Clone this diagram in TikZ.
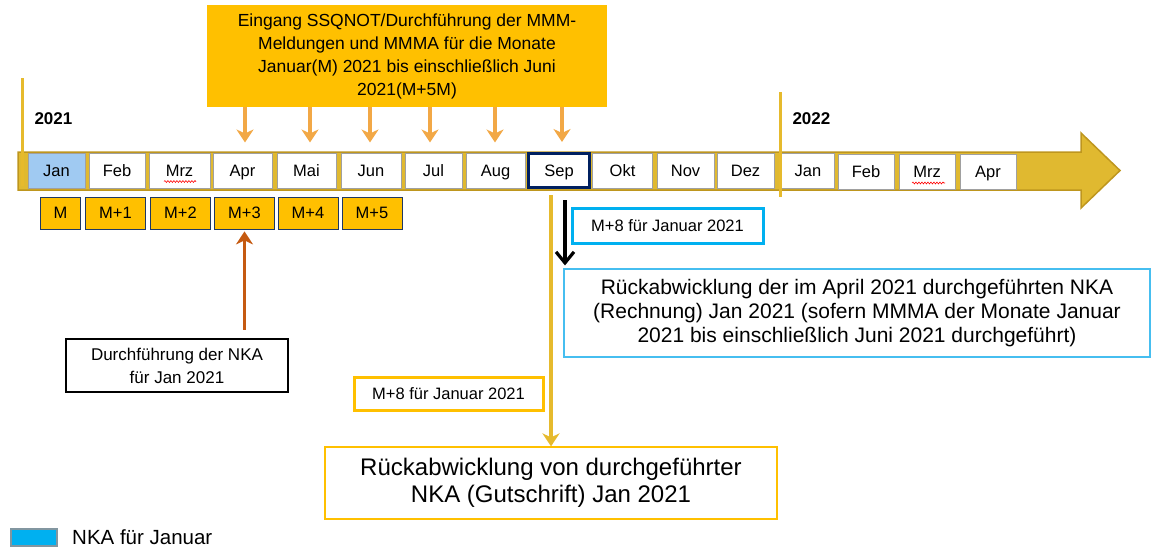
\documentclass[tikz,border=0pt]{standalone}
\usepackage{fontspec}
\setmainfont{Liberation Sans}
\usetikzlibrary{arrows.meta,decorations.pathmorphing}
\definecolor{amber}{RGB}{255,192,0}
\definecolor{bandgold}{RGB}{224,185,48}
\definecolor{banddark}{RGB}{190,150,30}
\definecolor{yline}{RGB}{230,186,45}
\definecolor{lorange}{RGB}{242,168,70}
\definecolor{brownarr}{RGB}{197,90,17}
\definecolor{mgray}{RGB}{160,160,160}
\definecolor{navy}{RGB}{0,32,96}
\definecolor{mnavy}{RGB}{31,56,100}
\definecolor{janblue}{RGB}{160,202,242}
\definecolor{cyanb}{RGB}{0,176,240}
\definecolor{cyanl}{RGB}{70,190,240}
\definecolor{leggray}{RGB}{130,150,160}
\begin{document}
\begin{tikzpicture}[x=1pt,y=-1pt,
  mbox/.style={draw=mgray, line width=1pt, fill=white, minimum height=35pt, inner sep=0pt, text height=11.8pt, text depth=0pt, font=\fontsize{16.5}{18}\selectfont},
  mmbox/.style={draw=mnavy, line width=0.8pt, fill=amber, minimum height=32pt, inner sep=0pt, text height=11.8pt, text depth=0pt, font=\fontsize{16.5}{18}\selectfont},
  oarrow/.style={draw=lorange, line width=3.5pt, -{Stealth[width=17pt,length=13pt,inset=4pt]}},
  txtbox/.style={inner sep=0pt, align=center},
  wavy/.style={draw=red, line width=0.6pt, decorate, decoration={snake, amplitude=0.9pt, segment length=3pt}}
]
\useasboundingbox (0,0) rectangle (1151,547);
% band
\fill[bandgold, draw=banddark, line width=1.5pt] (18,152) -- (1081,152) -- (1081,133) -- (1120,170.5) -- (1081,208) -- (1081,190) -- (18,190) -- cycle;
\draw[yline, line width=3pt] (22,78) -- (22,186);
% months 2021
\node[mbox, fill=janblue, minimum width=57pt] (jan) at (56.5,170.5) {Jan};
\node[mbox, minimum width=56pt] (feb) at (117,170.5) {Feb};
\node[mbox, minimum width=61pt] (mrz) at (179.5,170.5) {Mrz};
\node[mbox, minimum width=59pt] (apr) at (242.5,170.5) {Apr};
\node[mbox, minimum width=59pt] (mai) at (306.5,170.5) {Mai};
\node[mbox, minimum width=60pt] (jun) at (371,170.5) {Jun};
\node[mbox, minimum width=57pt] (jul) at (433.5,170.5) {Jul};
\node[mbox, minimum width=59pt] (aug) at (495.5,170.5) {Aug};
\node[mbox, draw=navy, line width=3pt, minimum width=61pt, minimum height=34pt] (sep) at (559,170.5) {Sep};
\node[mbox, minimum width=60pt] (okt) at (622.5,170.5) {Okt};
\node[mbox, minimum width=57pt] (nov) at (685.5,170.5) {Nov};
\node[mbox, minimum width=57pt] (dez) at (745.5,170.5) {Dez};
\node[mbox, minimum width=53pt] (jan2) at (808,171) {Jan};
\node[mbox, minimum width=56pt] (feb2) at (866,172) {Feb};
\node[mbox, minimum width=56pt] (mrz2) at (927,172) {Mrz};
\node[mbox, minimum width=56pt] (apr2) at (988,172) {Apr};
\draw[wavy] (164,181.5) -- (196,181.5);
\draw[wavy] (912,183) -- (945,183);
\draw[yline, line width=3pt] (780,92) -- (780,197);
% years
\node[anchor=west, font=\fontsize{17}{19}\selectfont\bfseries] (y21) at (31,119) {2021};
\node[anchor=west, font=\fontsize{17}{19}\selectfont\bfseries] (y22) at (789,119) {2022};
% M boxes
\node[mmbox, minimum width=40pt] (m0) at (60.5,213) {M};
\node[mmbox, minimum width=60pt] (m1) at (115.5,213) {M+1};
\node[mmbox, minimum width=60pt] (m2) at (180.5,213) {M+2};
\node[mmbox, minimum width=60pt] (m3) at (244.5,213) {M+3};
\node[mmbox, minimum width=60pt] (m4) at (308,213) {M+4};
\node[mmbox, minimum width=60pt] (m5) at (372,213) {M+5};
% top box
\node[txtbox, fill=amber, minimum width=400pt, minimum height=102pt, font=\fontsize{17.5}{23}\selectfont] (top) at (407,56)
 {Eingang SSQNOT/Durchführung der MMM-\\Meldungen und MMMA für die Monate\\Januar(M) 2021 bis einschließlich Juni\\2021(M+5M)};
\foreach \m/\dx in {apr/2.5,mai/3.5,jun/-1,jul/-3.5,aug/-0.5,sep/3}
  \draw[oarrow] ([xshift=\dx pt]top.south -| \m.north) -- ([xshift=\dx pt, yshift=10pt]\m.north);
% NKA box
\node[txtbox, draw=black, line width=2.2pt, minimum width=222pt, minimum height=53pt, font=\fontsize{17}{23}\selectfont] (nka) at (177,365.5)
 {Durchführung der NKA\\für Jan 2021};
\draw[brownarr, line width=3.5pt, -{Stealth[width=17pt,length=13pt,inset=4pt]}] ([yshift=8pt]m3.south |- nka.north) -- ([yshift=-2pt]m3.south);
% right boxes
\node[txtbox, draw=cyanb, line width=3pt, minimum width=191pt, minimum height=35pt, font=\fontsize{16.5}{19}\selectfont] (m8b) at (667.5,225.5) {M+8 für Januar 2021};
\node[txtbox, draw=cyanl, line width=1.2pt, minimum width=586pt, minimum height=88pt, font=\fontsize{21}{24}\selectfont] (rueck) at (857,313)
 {Rückabwicklung der im April 2021 durchgeführten NKA\\(Rechnung) Jan 2021 (sofern MMMA der Monate Januar\\2021 bis einschließlich Juni 2021 durchgeführt)};
\node[txtbox, draw=amber, line width=3pt, minimum width=189pt, minimum height=33pt, font=\fontsize{16.5}{19}\selectfont] (m8y) at (448.5,393.5) {M+8 für Januar 2021};
\node[txtbox, draw=amber, line width=1.2pt, minimum width=452pt, minimum height=72pt, font=\fontsize{24}{27}\selectfont] (bot) at (551,483)
 {Rückabwicklung von durchgeführter\\NKA (Gutschrift) Jan 2021};
% connectors
\draw[yline, line width=3.5pt, -{Stealth[width=17pt,length=13pt,inset=4pt]}] ([yshift=-6pt]bot.north |- sep.south) -- (bot.north);
\coordinate (bk) at (565,200);
\draw[black, line width=3.2pt, -{Straight Barb[width=18pt,length=11pt]}] (bk) -- ([yshift=3pt]bk |- rueck.north);
% legend
\node[draw=leggray, line width=2pt, fill=cyanb, minimum width=46pt, minimum height=17pt, inner sep=0pt] (leg) at (33.5,537) {};
\node[anchor=base west, inner sep=0pt, font=\fontsize{20.5}{23}\selectfont] (legt) at (72,544) {NKA für Januar};
\end{tikzpicture}
\end{document}
